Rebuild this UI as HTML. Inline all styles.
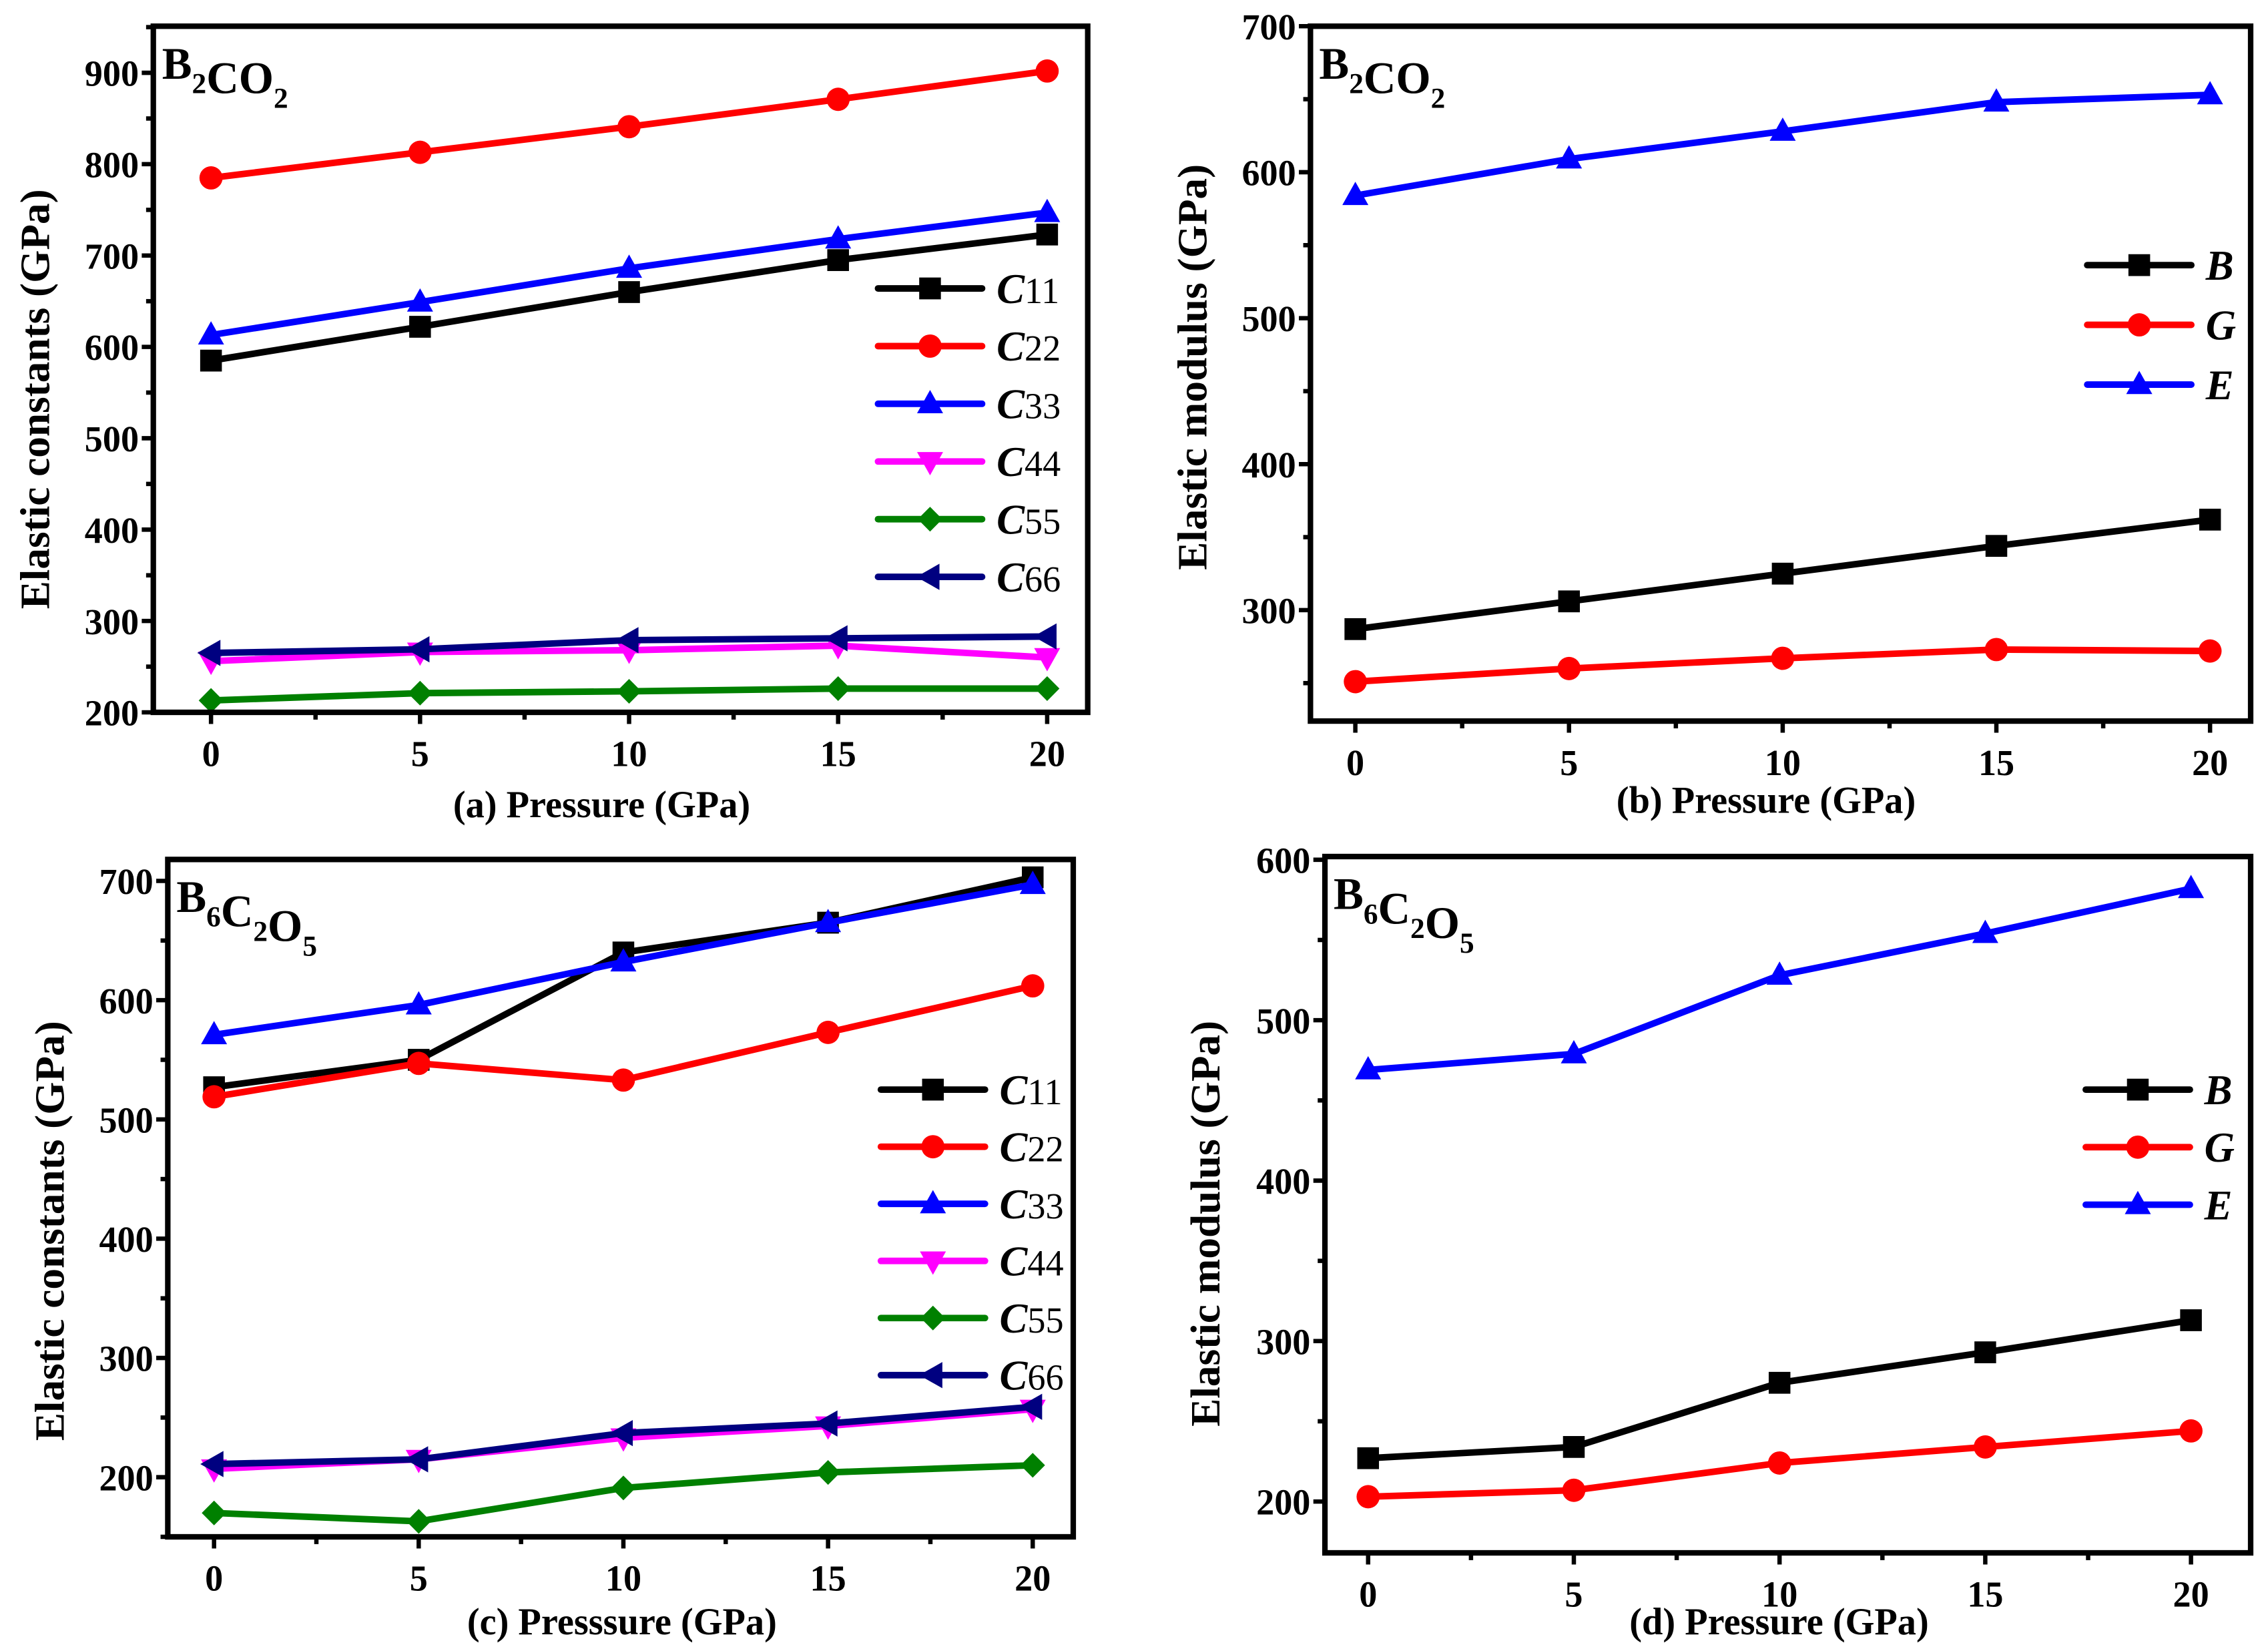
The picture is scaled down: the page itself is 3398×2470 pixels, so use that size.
<!DOCTYPE html>
<html><head><meta charset="utf-8"><style>
html,body{margin:0;padding:0;background:#fff}
svg{display:block}
text{font-family:"Liberation Serif",serif;font-weight:bold;fill:#000}
</style></head><body>
<svg id="fig" width="3398" height="2470" viewBox="0 0 1568 1132" preserveAspectRatio="none" xmlns="http://www.w3.org/2000/svg"></svg>
<script>
const pressure=[0,5,10,15,20];
const xTicks=[0,5,10,15,20];
// panel a
const aC11=[585,622,660,695,723];
const aC22=[785,813,841,871,902];
const aC33=[613,649,686,718,747];
const aC44=[256,266,268,273,260];
const aC55=[213,221,223,226,226];
const aC66=[265,269,279,281,283];
const aYTicks=[200,300,400,500,600,700,800,900];
// panel b
const bB=[287,306,325,344,362];
const bG=[251,260,267,273,272];
const bE=[584,609,628,648,653];
const bYTicks=[300,400,500,600,700];
// panel c
const cC11=[527,550,640,665,703];
const cC22=[519,547,533,573,612];
const cC33=[571,596,632,665,697];
const cC44=[207,215,233,243,257];
const cC55=[170,163,191,204,210];
const cC66=[211,215,237,245,259];
const cYTicks=[200,300,400,500,600,700];
// panel d
const dB=[227,234,274,293,313];
const dG=[203,207,224,234,244];
const dE=[469,479,528,554,582];
const dYTicks=[200,300,400,500,600];

const NS="http://www.w3.org/2000/svg";
const svg=document.getElementById('fig');
function mk(tag,attrs,parent){const e=document.createElementNS(NS,tag);for(const k in attrs)e.setAttribute(k,attrs[k]);(parent||svg).appendChild(e);return e;}
function marker(g,type,x,y,c){
  const s=7.5;let e;
  if(type==='sq'){e=mk('rect',{x:x-s,y:y-s,width:2*s,height:2*s,fill:c},g);}
  else if(type==='ci'){e=mk('circle',{cx:x,cy:y,r:s+0.5,fill:c},g);}
  else if(type==='up'){e=mk('polygon',{points:`${x},${y-s-2} ${x-s-1.5},${y+s-1} ${x+s+1.5},${y+s-1}`,fill:c},g);}
  else if(type==='dn'){e=mk('polygon',{points:`${x},${y+s+2} ${x-s-1.5},${y-s+1} ${x+s+1.5},${y-s+1}`,fill:c},g);}
  else if(type==='di'){e=mk('polygon',{points:`${x},${y-s-1} ${x+s+1},${y} ${x},${y+s+1} ${x-s-1},${y}`,fill:c},g);}
  else if(type==='lt'){e=mk('polygon',{points:`${x-s-2},${y} ${x+s-1},${y-s-1.5} ${x+s-1},${y+s+1.5}`,fill:c},g);}
  
  
}
function panel(p){
  const g=mk('g',{});
  
  
  const X=v=>p.L+(v-p.x0)/(p.x1-p.x0)*(p.R-p.L);
  const Y=v=>p.B-(v-p.y0)/(p.y1-p.y0)*(p.B-p.T);
  xTicks.forEach((t,i)=>{
    const x=X(t);
    const tk=mk('line',{x1:x,x2:x,y1:p.B,y2:p.B+8,stroke:'#000','stroke-width':3},g);
    
    const lb=mk('text',{x:x,y:p.B+37,'font-size':25,'text-anchor':'middle'},g);lb.textContent=t;
    
    if(i<xTicks.length-1){const xm=X(t+2.5);mk('line',{x1:xm,x2:xm,y1:p.B,y2:p.B+5,stroke:'#000','stroke-width':3},g);}
  });
  const st=p.yt[1]-p.yt[0];
  for(let v=p.yt[0]-st/2;v<=p.y1;v+=st/2){
    if(v<p.y0)continue;
    const y=Y(v);const major=p.yt.includes(v);
    mk('line',{x1:p.L-(major?8:5),x2:p.L,y1:y,y2:y,stroke:'#000','stroke-width':3},g);
    if(major){const lb=mk('text',{x:p.L-10,y:y+9,'font-size':25,'text-anchor':'end'},g);lb.textContent=v;
      }
  }
  p.series.forEach(s=>{
    const sg=mk('g',{},g);
    
    
    mk('polyline',{points:pressure.map((x,i)=>X(x)+','+Y(s.d[i])).join(' '),fill:'none',stroke:s.c,'stroke-width':4.5,'stroke-linejoin':'round'},sg);
    pressure.forEach((x,i)=>marker(sg,s.m,X(x),Y(s.d[i]),s.c));
  });
  const fr=mk('rect',{x:p.L,y:p.T,width:p.R-p.L,height:p.B-p.T,fill:'none',stroke:'#000','stroke-width':3.8},g);
  
  p.series.forEach((s,i)=>{
    const y=p.ly+i*p.ld;
    const lg=mk('g',{},g);
    
    
    mk('line',{x1:p.lx,x2:p.lx+72,y1:y,y2:y,stroke:s.c,'stroke-width':4.5,'stroke-linecap':'round'},lg);
    marker(lg,s.m,p.lx+36,y,s.c);
    const t=mk('text',{x:p.lx+82,y:y+10,'font-size':29},lg);
    const a=mk('tspan',{'font-style':'italic'},t);a.textContent=s.label[0];
    if(s.label.length>1){const b=mk('tspan',{'font-size':25,'font-weight':'normal'},t);b.textContent=s.label.slice(1);}
  });
  const ct=mk('text',{x:p.L+6,y:p.T+36,'font-size':31},g);
  
  p.comp.forEach(([a,sub])=>{const t1=mk('tspan',{},ct);t1.textContent=a;if(sub){const t2=mk('tspan',{'font-size':20,dy:10},ct);t2.textContent=sub;const t3=mk('tspan',{dy:-10},ct);t3.textContent='';}});
  const xt=mk('text',{x:p.xtx,y:p.B+p.xto,'font-size':26,'text-anchor':'middle'},g);xt.textContent=p.xtitle;
  
  const yc=p.ytc;
  const yt=mk('text',{x:p.ytx,y:yc,'font-size':29,'text-anchor':'middle',transform:`rotate(-90 ${p.ytx} ${yc})`},g);yt.textContent=p.ytitle;
  
}
const B2CO2=[['B','2'],['CO','2']];
const B6=[['B','6'],['C','2'],['O','5']];
panel({name:'panel-a',L:106,R:752,T:18,B:489,x0:-1.38,x1:20.97,y0:200,y1:951,yt:aYTicks,
  series:[{d:aC11,c:'#000',m:'sq',label:'C11'},{d:aC22,c:'#f00',m:'ci',label:'C22'},{d:aC33,c:'#00f',m:'up',label:'C33'},
  {d:aC44,c:'#f0f',m:'dn',label:'C44'},{d:aC55,c:'#008000',m:'di',label:'C55'},{d:aC66,c:'#000080',m:'lt',label:'C66'}],
  lx:607,ly:198,ld:39.6,comp:B2CO2,xtitle:'(a) Pressure (GPa)',xtx:416,xto:72,ytitle:'Elastic constants (GPa)',ytx:34,ytc:274});
panel({name:'panel-b',L:906,R:1556,T:18,B:495,x0:-1.05,x1:20.95,y0:224,y1:700,yt:bYTicks,
  series:[{d:bB,c:'#000',m:'sq',label:'B'},{d:bG,c:'#f00',m:'ci',label:'G'},{d:bE,c:'#00f',m:'up',label:'E'}],
  lx:1443,ly:182,ld:41,comp:B2CO2,xtitle:'(b) Pressure (GPa)',xtx:1221,xto:63,ytitle:'Elastic modulus (GPa)',ytx:834,ytc:252});
panel({name:'panel-c',L:116,R:742,T:590,B:1055,x0:-1.13,x1:20.99,y0:150,y1:718,yt:cYTicks,
  series:[{d:cC11,c:'#000',m:'sq',label:'C11'},{d:cC22,c:'#f00',m:'ci',label:'C22'},{d:cC33,c:'#00f',m:'up',label:'C33'},
  {d:cC44,c:'#f0f',m:'dn',label:'C44'},{d:cC55,c:'#008000',m:'di',label:'C55'},{d:cC66,c:'#000080',m:'lt',label:'C66'}],
  lx:609,ly:748,ld:39.2,comp:B6,xtitle:'(c) Presssure (GPa)',xtx:430,xto:67,ytitle:'Elastic constants (GPa)',ytx:44,ytc:845});
panel({name:'panel-d',L:916,R:1556,T:588,B:1066,x0:-1.05,x1:21.45,y0:168,y1:602,yt:dYTicks,
  series:[{d:dB,c:'#000',m:'sq',label:'B'},{d:dG,c:'#f00',m:'ci',label:'G'},{d:dE,c:'#00f',m:'up',label:'E'}],
  lx:1442,ly:748,ld:39.5,comp:B6,xtitle:'(d) Pressure (GPa)',xtx:1230,xto:56,ytitle:'Elastic modulus (GPa)',ytx:843,ytc:840});
</script>
</body></html>
